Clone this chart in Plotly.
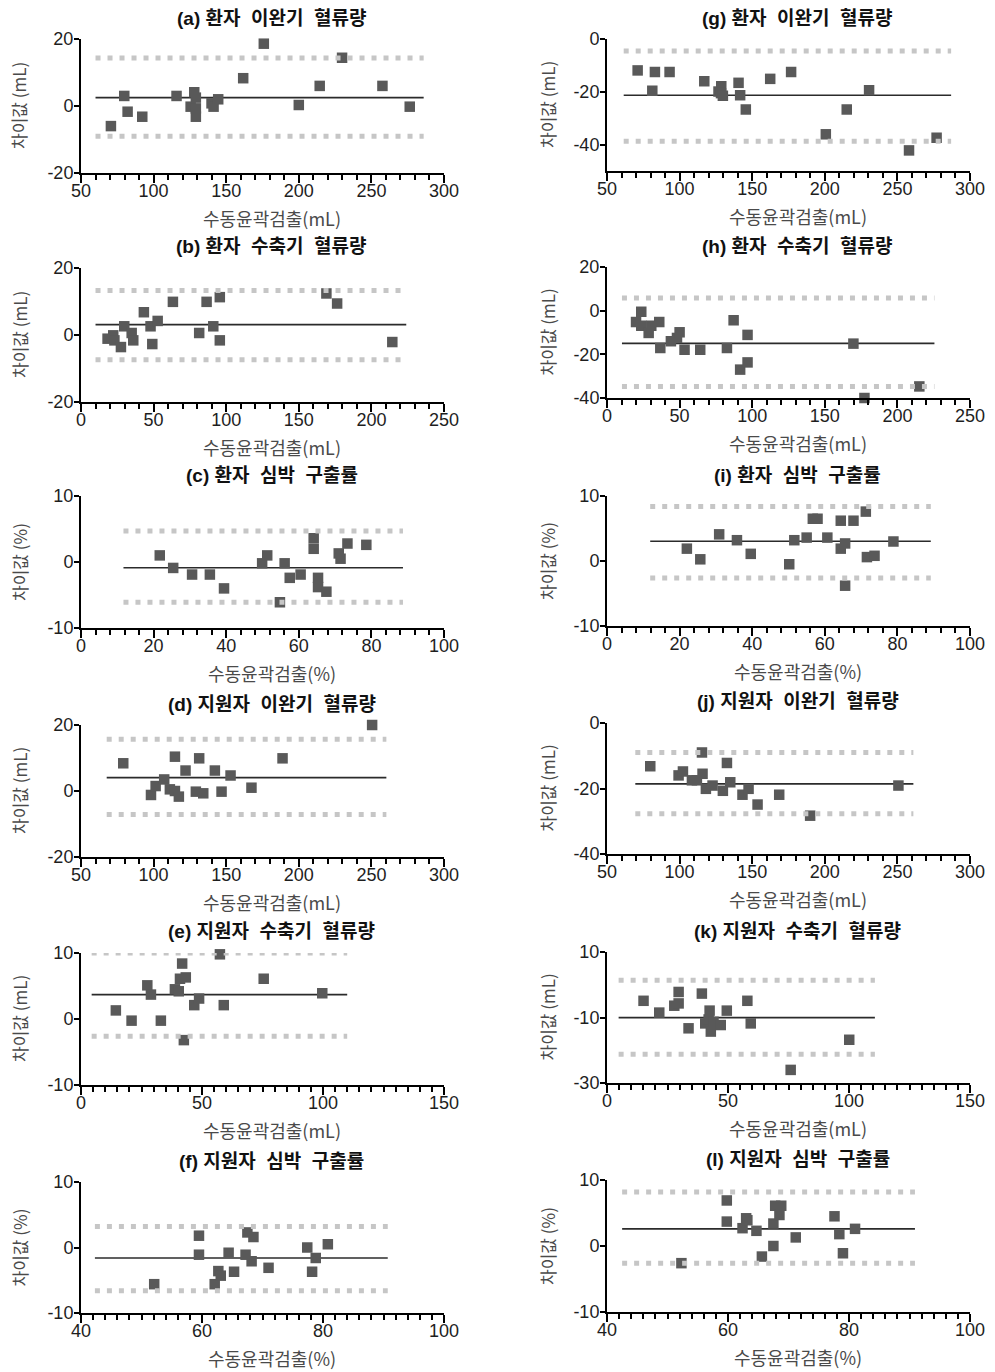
import plotly.graph_objects as go

W, H = 995, 1372

# ---------------- data ----------------
a_x = [70.6, 79.8, 82.1, 92.2, 115.8, 125.5, 128.0, 129.1, 129.1, 129.1, 139.9, 141.3, 144.5, 161.7, 175.9, 200.0, 214.4, 229.8, 257.6, 276.4]
a_y = [-6.0, 3.0, -1.7, -3.2, 3.0, -0.2, 4.1, 2.5, -0.7, -3.2, 0.8, -0.2, 2.0, 8.3, 18.6, 0.3, 6.0, 14.4, 6.0, -0.2]
b_x = [18.3, 22.2, 23.0, 27.5, 29.8, 34.9, 36.0, 43.3, 47.9, 49.1, 52.8, 63.3, 81.4, 86.5, 91.1, 95.6, 95.6, 169.0, 176.4, 214.4]
b_y = [-1.1, -0.1, -1.6, -3.6, 2.6, 0.6, -1.6, 6.8, 2.6, -2.7, 4.2, 9.9, 0.6, 9.9, 2.6, 11.3, -1.6, 12.4, 9.4, -2.1]
c_x = [21.7, 25.4, 30.6, 35.5, 39.4, 49.9, 51.3, 54.8, 56.1, 57.5, 60.5, 64.1, 64.1, 65.3, 65.3, 67.6, 71.0, 71.5, 73.4, 78.6]
c_y = [1.0, -0.9, -1.9, -1.9, -4.0, -0.2, 1.0, -6.1, -0.2, -2.4, -1.9, 3.6, 2.0, -2.4, -3.8, -4.5, 1.3, 0.5, 2.8, 2.6]
d_x = [79.1, 98.2, 101.4, 107.3, 111.2, 114.7, 114.7, 117.4, 122.0, 129.1, 131.4, 134.2, 142.2, 146.8, 153.0, 167.4, 188.8, 250.5]
d_y = [8.4, -1.2, 1.5, 3.5, 0.5, 10.4, 0.0, -1.7, 6.2, -0.2, 9.9, -0.7, 6.2, -0.2, 4.7, 1.0, 9.9, 20.0]
e_x = [14.4, 20.9, 27.4, 28.9, 33.0, 38.8, 40.4, 40.9, 41.8, 42.5, 43.3, 46.8, 48.8, 57.4, 59.0, 75.5, 99.7]
e_y = [1.3, -0.25, 5.1, 3.7, -0.25, 4.5, 4.2, 6.1, 8.4, -3.2, 6.3, 2.1, 3.1, 9.8, 2.1, 6.1, 3.9]
f_x = [52.1, 59.5, 59.5, 62.1, 62.7, 63.1, 64.4, 65.3, 67.2, 67.5, 68.2, 68.5, 71.0, 77.4, 78.2, 78.8, 80.8]
f_y = [-5.6, 1.8, -1.1, -5.6, -3.6, -4.3, -0.8, -3.7, -1.1, 2.3, -2.1, 1.6, -3.1, 0.0, -3.7, -1.6, 0.5]
g_x = [71.1, 81.2, 83.0, 93.1, 117.0, 126.8, 128.7, 128.5, 129.8, 140.6, 141.7, 145.6, 162.4, 176.8, 200.7, 215.1, 230.5, 258.0, 277.0]
g_y = [-11.9, -19.6, -12.5, -12.5, -16.0, -19.9, -17.9, -20.5, -21.5, -16.6, -21.3, -26.7, -15.1, -12.5, -36.1, -26.7, -19.4, -42.2, -37.4]
h_x = [20.0, 23.6, 23.6, 28.7, 30.5, 36.0, 36.7, 44.0, 48.2, 50.0, 53.4, 64.2, 82.6, 87.2, 91.7, 96.8, 96.8, 169.7, 177.3, 215.1]
h_y = [-5.2, -0.5, -6.9, -10.2, -6.9, -5.2, -17.1, -14.0, -12.5, -9.9, -17.9, -17.9, -17.1, -4.4, -27.0, -11.1, -23.7, -15.1, -40.0, -34.7]
i_x = [22.0, 25.7, 30.9, 35.8, 39.6, 50.2, 51.6, 55.0, 56.7, 58.0, 60.7, 64.4, 64.4, 65.6, 65.6, 67.9, 71.3, 71.6, 73.7, 78.9]
i_y = [1.9, 0.26, 4.1, 3.2, 1.1, -0.5, 3.2, 3.6, 6.5, 6.5, 3.6, 6.2, 1.9, 2.7, -3.8, 6.2, 7.6, 0.6, 0.8, 3.0]
j_x = [79.8, 99.3, 102.3, 108.5, 111.9, 115.4, 115.8, 118.1, 122.7, 129.8, 132.6, 134.9, 143.3, 147.5, 153.7, 168.6, 189.9, 250.7]
j_y = [-13.2, -16.0, -14.8, -17.5, -17.5, -9.0, -15.5, -20.1, -19.1, -20.7, -12.2, -18.1, -21.9, -20.1, -24.9, -21.9, -28.3, -19.1]
k_x = [15.1, 21.6, 27.8, 29.6, 29.6, 33.7, 39.2, 40.6, 42.0, 42.4, 42.9, 44.0, 47.0, 49.5, 58.0, 59.4, 75.9, 100.1]
k_y = [-4.9, -8.5, -6.4, -2.2, -5.7, -13.3, -2.7, -11.8, -10.6, -7.9, -14.3, -11.3, -12.3, -7.9, -4.9, -11.8, -26.0, -16.8]
l_x = [52.3, 59.8, 59.8, 62.4, 63.0, 63.2, 64.7, 65.6, 67.5, 67.5, 67.8, 68.5, 68.8, 71.2, 77.6, 78.4, 79.0, 81.0]
l_y = [-2.6, 6.9, 3.7, 2.7, 4.2, 3.9, 2.3, -1.6, 3.4, 0.0, 6.1, 4.7, 6.1, 1.3, 4.5, 1.8, -1.1, 2.6]

# mean bias, upper / lower limits of agreement, x-extent of those lines
means = {"a": 2.5, "b": 3.1, "c": -0.86, "d": 4.05, "e": 3.7, "f": -1.6,
         "g": -21.3, "h": -15.0, "i": 3.05, "j": -18.6, "k": -10.05, "l": 2.6}
uppers = {"a": 14.3, "b": 13.3, "c": 4.7, "d": 15.7, "e": 10.0, "f": 3.2,
          "g": -4.5, "h": 5.8, "i": 8.4, "j": -9.0, "k": 1.4, "l": 8.2}
lowers = {"a": -9.0, "b": -7.4, "c": -6.1, "d": -7.1, "e": -2.6, "f": -6.6,
          "g": -38.7, "h": -34.7, "i": -2.6, "j": -27.7, "k": -21.2, "l": -2.6}
line_x = {"a": (60, 286), "b": (10, 224), "c": (11.7, 88.7), "d": (67.7, 260.3),
          "e": (4.4, 110), "f": (42.3, 90.7), "g": (61.5, 287), "h": (10.3, 225.5),
          "i": (11.9, 89.2), "j": (69.5, 261), "k": (4.8, 110.7), "l": (42.5, 90.9)}

titles = {"a": "(a) 환자  이완기  혈류량", "b": "(b) 환자  수축기  혈류량", "c": "(c) 환자  심박  구출률",
          "d": "(d) 지원자  이완기  혈류량", "e": "(e) 지원자  수축기  혈류량", "f": "(f) 지원자  심박  구출률",
          "g": "(g) 환자  이완기  혈류량", "h": "(h) 환자  수축기  혈류량", "i": "(i) 환자  심박  구출률",
          "j": "(j) 지원자  이완기  혈류량", "k": "(k) 지원자  수축기  혈류량", "l": "(l) 지원자  심박  구출률"}
xtitles = {"ml": "수동윤곽검출(mL)", "pct": "수동윤곽검출(%)"}
ytitles = {"ml": "차이값 (mL)", "pct": "차이값 (%)"}

# axis settings: x range, x dtick, x minor dtick, y range, y ticks, unit
axes = {
    "a": ((50, 300), 50, 10, (-20, 20), [-20, 0, 20], "ml"),
    "b": ((0, 250), 50, 10, (-20, 20), [-20, 0, 20], "ml"),
    "c": ((0, 100), 20, 4, (-10, 10), [-10, 0, 10], "pct"),
    "d": ((50, 300), 50, 10, (-20, 20), [-20, 0, 20], "ml"),
    "e": ((0, 150), 50, 5, (-10, 10), [-10, 0, 10], "ml"),
    "f": ((40, 100), 20, 2, (-10, 10), [-10, 0, 10], "pct"),
    "g": ((50, 300), 50, 10, (-50, 0), [-40, -20, 0], "ml"),
    "h": ((0, 250), 50, 10, (-40, 20), [-40, -20, 0, 20], "ml"),
    "i": ((0, 100), 20, 4, (-10, 10), [-10, 0, 10], "pct"),
    "j": ((50, 300), 50, 10, (-40, 0), [-40, -20, 0], "ml"),
    "k": ((0, 150), 50, 5, (-30, 10), [-30, -10, 10], "ml"),
    "l": ((40, 100), 20, 2, (-10, 10), [-10, 0, 10], "pct"),
}

data = {"a": (a_x, a_y), "b": (b_x, b_y), "c": (c_x, c_y), "d": (d_x, d_y),
        "e": (e_x, e_y), "f": (f_x, f_y), "g": (g_x, g_y), "h": (h_x, h_y),
        "i": (i_x, i_y), "j": (j_x, j_y), "k": (k_x, k_y), "l": (l_x, l_y)}

# ---------------- layout geometry (page pixels) ----------------
col_px = {0: (81, 444), 1: (607, 970)}
tops = {"a": 39, "b": 268, "c": 496, "d": 725, "e": 953, "f": 1182,
        "g": 39, "h": 267, "i": 496, "j": 723, "k": 952, "l": 1180}
bots = {"a": 173, "b": 402, "c": 628, "d": 857, "e": 1085, "f": 1313,
        "g": 171, "h": 398, "i": 626, "j": 854, "k": 1083, "l": 1312}


def px_x(p):
    return p / W


def px_y(p):
    return 1 - p / H


TXT = "#1e1e1e"
GREY_T = "#4a4a4a"
MARK = "#595959"
DOT = "#c6c6c6"
AX = "black"
LAT = "Liberation Sans, Arial, Noto Sans CJK KR, sans-serif"
KOR = "Noto Sans CJK KR, Liberation Sans, sans-serif"

fig = go.Figure()
annotations = []
order = list("abcdefghijkl")
for n, key in enumerate(order, start=1):
    col = 0 if key in "abcdef" else 1
    xr, dt, mdt, yr, yt, unit = axes[key]
    x0p, x1p = col_px[col]
    xa = "x" if n == 1 else f"x{n}"
    ya = "y" if n == 1 else f"y{n}"
    xs, ys = data[key]
    lx0, lx1 = line_x[key]
    # mean line
    fig.add_trace(go.Scatter(x=[lx0, lx1], y=[means[key], means[key]], mode="lines",
                             line=dict(color="#2b2b2b", width=1.6), xaxis=xa, yaxis=ya,
                             showlegend=False, hoverinfo="skip"))
    # points
    fig.add_trace(go.Scatter(x=xs, y=ys, mode="markers",
                             marker=dict(symbol="square", size=10.5, color=MARK, line=dict(width=0)),
                             xaxis=xa, yaxis=ya, showlegend=False, cliponaxis=False))
    # limits of agreement (dotted)
    for v in (uppers[key], lowers[key]):
        fig.add_trace(go.Scatter(x=[lx0, lx1], y=[v, v], mode="lines",
                                 line=dict(color=DOT, width=5, dash="5px,7px"),
                                 xaxis=xa, yaxis=ya, showlegend=False, hoverinfo="skip"))
    xdom = [px_x(x0p), px_x(x1p)]
    ydom = [px_y(bots[key]), px_y(tops[key])]
    xkey = "xaxis" if n == 1 else f"xaxis{n}"
    ykey = "yaxis" if n == 1 else f"yaxis{n}"
    fig.layout[xkey] = dict(domain=xdom, range=list(xr), anchor=ya, tickmode="linear",
                            tick0=xr[0], dtick=dt,
                            showline=True, linecolor=AX, linewidth=2, ticks="outside",
                            ticklen=8, tickwidth=2, tickcolor=AX, ticklabelstandoff=-8,
                            minor=dict(dtick=mdt, tick0=xr[0], ticks="outside", ticklen=5,
                                       tickwidth=1.5, tickcolor=AX, showgrid=False),
                            showgrid=False, zeroline=False,
                            tickfont=dict(family=LAT, size=18, color=TXT))
    fig.layout[ykey] = dict(domain=ydom, range=list(yr), anchor=xa, tickmode="array",
                            tickvals=yt, ticktext=[str(v) for v in yt],
                            showline=True, linecolor=AX, linewidth=2, ticks="outside",
                            ticklen=5, tickwidth=2, tickcolor=AX, ticklabelstandoff=-3,
                            showgrid=False, zeroline=False,
                            tickfont=dict(family=LAT, size=18, color=TXT))
    # titles
    cx = (x0p + x1p) / 2 + 9
    annotations.append(dict(text="<b>" + titles[key] + "</b>", x=px_x(cx), y=px_y(tops[key] - 21),
                            xref="paper", yref="paper", showarrow=False, xanchor="center",
                            yanchor="middle", font=dict(family=LAT, size=19, color="#111111")))
    annotations.append(dict(text=xtitles[unit], x=px_x(cx), y=px_y(bots[key] + 45),
                            xref="paper", yref="paper", showarrow=False, xanchor="center",
                            yanchor="middle", font=dict(family=KOR, size=18, color=GREY_T)))
    ytx = 19 if col == 0 else 547
    annotations.append(dict(text=ytitles[unit], x=px_x(ytx), y=px_y((tops[key] + bots[key]) / 2),
                            xref="paper", yref="paper", showarrow=False, xanchor="center",
                            yanchor="middle", textangle=-90,
                            font=dict(family=KOR, size=17, color=GREY_T)))

fig.update_layout(width=W, height=H, margin=dict(l=0, r=0, t=0, b=0),
                  paper_bgcolor="white", plot_bgcolor="white", template="none",
                  annotations=annotations, showlegend=False)
fig.write_html("out.html")
